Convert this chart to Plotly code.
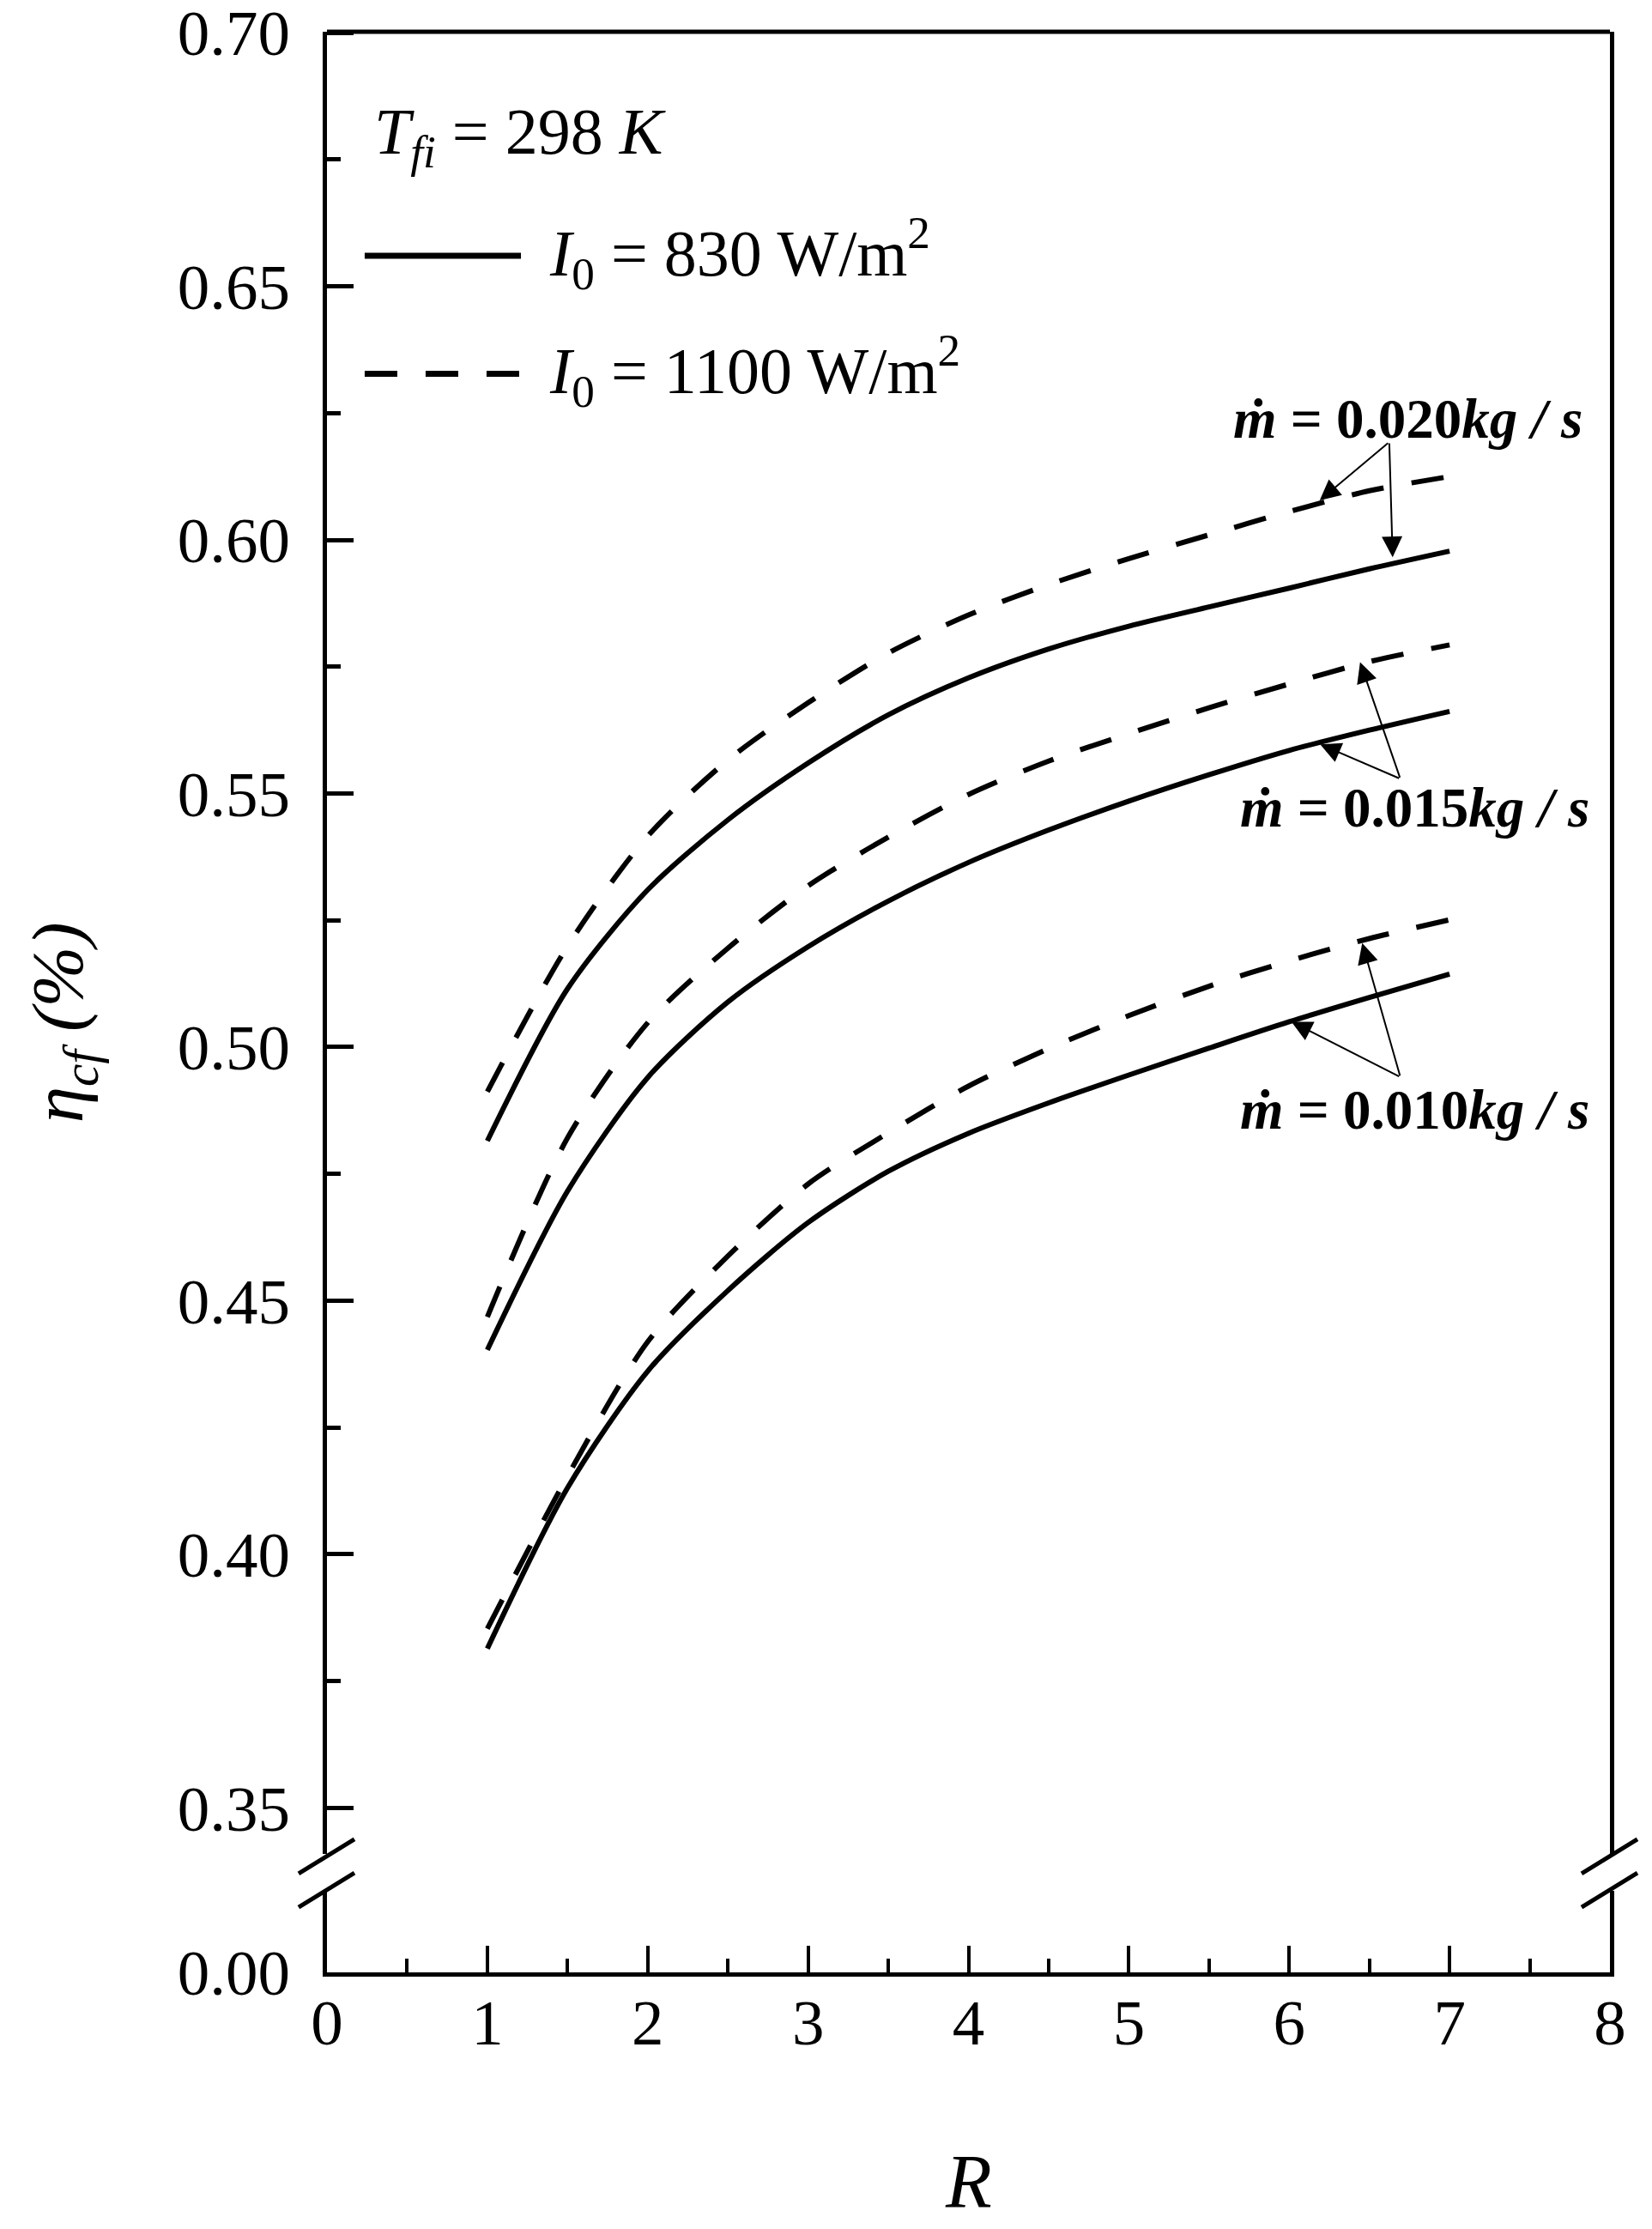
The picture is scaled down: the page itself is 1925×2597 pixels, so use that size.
import plotly.graph_objects as go

R = [1, 1.5, 2, 2.5, 3, 3.5, 4, 4.5, 5, 5.5, 6, 6.5, 7]
eta_020_830 = [0.4815, 0.5115, 0.5310, 0.5448, 0.5560, 0.5655, 0.5728, 0.5785, 0.5830, 0.5868, 0.5905, 0.5943, 0.5978]
eta_020_1100 = [0.4912, 0.5199, 0.5416, 0.5566, 0.5679, 0.5777, 0.5852, 0.5912, 0.5963, 0.6010, 0.6056, 0.6097, 0.6125]
eta_015_830 = [0.4403, 0.4716, 0.4940, 0.5089, 0.5198, 0.5288, 0.5364, 0.5428, 0.5485, 0.5537, 0.5585, 0.5625, 0.5662]
eta_015_1100 = [0.4468, 0.4821, 0.5048, 0.5195, 0.5318, 0.5414, 0.5498, 0.5564, 0.5618, 0.5669, 0.5716, 0.5760, 0.5793]
eta_010_830 = [0.3814, 0.4131, 0.4361, 0.4520, 0.4654, 0.4755, 0.4830, 0.4890, 0.4945, 0.4998, 0.5050, 0.5098, 0.5144]
eta_010_1100 = [0.3853, 0.4154, 0.4419, 0.4588, 0.4730, 0.4831, 0.4923, 0.4997, 0.5062, 0.5120, 0.5170, 0.5214, 0.5251]

x_ticks = [0, 1, 2, 3, 4, 5, 6, 7, 8]
y_ticks = [0.35, 0.40, 0.45, 0.50, 0.55, 0.60, 0.65, 0.70]

# mass flow labels: text, label pos, arrow tail, arrow tips
flow_labels = ['0.020', '0.015', '0.010']
label_x = [6.74, 6.78, 6.78]
label_y = [0.6238, 0.5472, 0.4877]
tail_x = [6.624, 6.693, 6.693]
tail_y = [0.6193, 0.5529, 0.4941]
tip_dash_x = [6.19, 6.442, 6.455]
tip_dash_y = [0.6078, 0.5759, 0.5205]
tip_solid_x = [6.645, 6.193, 6.014]
tip_solid_y = [0.5966, 0.5597, 0.5050]

FONT = 'Liberation Serif'
DASH = '38px,33px'

fig = go.Figure()
for ys, d in [(eta_020_830, 'solid'), (eta_020_1100, DASH),
              (eta_015_830, 'solid'), (eta_015_1100, DASH),
              (eta_010_830, 'solid'), (eta_010_1100, DASH)]:
    fig.add_trace(go.Scatter(x=R, y=ys, mode='lines', showlegend=False,
                             line=dict(color='black', width=6, dash=d, shape='spline', smoothing=0.8)))

# empty trace so the lower (broken) axis piece exists
fig.add_trace(go.Scatter(x=[None], y=[None], xaxis='x', yaxis='y2', mode='lines',
                         showlegend=False, hoverinfo='skip'))

axis_font = dict(family=FONT, size=75, color='black')

# margins shifted 8px to offset the page's default body margin
fig.update_layout(
    width=1925, height=2597,
    margin=dict(l=373, r=57, t=29, b=307),
    paper_bgcolor='white', plot_bgcolor='white',
    font=dict(family=FONT, color='black'),
    xaxis=dict(range=[0, 8], anchor='y2', tickvals=x_ticks, ticks='inside', ticklen=31, tickwidth=4,
               tickcolor='black', showline=True, linecolor='black', linewidth=5, showgrid=False,
               zeroline=False, tickfont=axis_font, ticklabelstandoff=-11, automargin=False,
               minor=dict(ticks='inside', ticklen=16, tickwidth=4, dtick=0.5, tickcolor='black')),
    yaxis=dict(domain=[0.061, 1], range=[0.3409, 0.7002], anchor='x', tickvals=y_ticks,
               tickformat='.2f', ticks='inside', ticklen=31, tickwidth=5, tickcolor='black',
               showline=True, mirror=True, linecolor='black', linewidth=5, showgrid=False,
               zeroline=False, tickfont=axis_font, ticklabelstandoff=23, ticklabeloverflow='allow',
               automargin=False,
               minor=dict(ticks='inside', ticklen=16, tickwidth=5, dtick=0.025, tick0=0.35,
                          tickcolor='black')),
    yaxis2=dict(domain=[0, 0.042], range=[0, 1], anchor='x', tickvals=[0], ticktext=['0.00'],
                ticks='', showline=True, mirror=True, linecolor='black', linewidth=5,
                showgrid=False, zeroline=False, tickfont=axis_font, ticklabelstandoff=23,
                ticklabeloverflow='allow', automargin=False),
)

# top border
fig.add_shape(type='line', xref='paper', yref='paper', x0=0, x1=1, y0=1, y1=1,
              line=dict(color='black', width=5))

# axis break marks (left and right)
for xa, xb in [(-0.0221, 0.0214), (0.9779, 1.0214)]:
    for y0 in [0.0509, 0.0336]:
        fig.add_shape(type='line', xref='paper', yref='paper', x0=xa, x1=xb,
                      y0=y0, y1=y0 + 0.0177, line=dict(color='black', width=5))

# legend box
fig.add_shape(type='line', xref='paper', yref='paper', x0=0.0294, x1=0.1512, y0=0.8846, y1=0.8846,
              line=dict(color='black', width=7))
fig.add_shape(type='line', xref='paper', yref='paper', x0=0.0294, x1=0.1512, y0=0.8237, y1=0.8237,
              line=dict(color='black', width=7, dash=DASH))
leg_font = dict(family=FONT, size=76, color='black')
fig.add_annotation(xref='paper', yref='paper', x=0.0355, y=0.9461, xanchor='left', yanchor='middle',
                   text='<i>T</i><sub><i>fi</i></sub> = 298 <i>K</i>', showarrow=False, font=leg_font)
fig.add_annotation(xref='paper', yref='paper', x=0.1719, y=0.8857, xanchor='left', yanchor='middle',
                   text='<i>I</i><sub>0</sub> = 830 W/m<sup>2</sup>', showarrow=False, font=leg_font)
fig.add_annotation(xref='paper', yref='paper', x=0.1719, y=0.8249, xanchor='left', yanchor='middle',
                   text='<i>I</i><sub>0</sub> = 1100 W/m<sup>2</sup>', showarrow=False, font=leg_font)

# mass flow rate labels and arrows
for i, lab in enumerate(flow_labels):
    fig.add_annotation(x=label_x[i], y=label_y[i], xref='x', yref='y', showarrow=False,
                       text='<b><i>ṁ</i> = ' + lab + '<i>kg / s</i></b>',
                       font=dict(family=FONT, size=65, color='black'))
    for tx, ty in [(tip_dash_x[i], tip_dash_y[i]), (tip_solid_x[i], tip_solid_y[i])]:
        fig.add_annotation(x=tx, y=ty, ax=tail_x[i], ay=tail_y[i], xref='x', yref='y',
                           axref='x', ayref='y', text='', showarrow=True, arrowhead=2,
                           arrowsize=2.4, arrowwidth=2, arrowcolor='black')

# axis titles
fig.add_annotation(xref='paper', yref='paper', x=0.5, y=-0.1075, xanchor='center', yanchor='middle',
                   text='<i>R</i>', showarrow=False, font=dict(family=FONT, size=88, color='black'))
fig.add_annotation(xref='paper', yref='paper', x=-0.206, y=0.4895, xanchor='center', yanchor='middle',
                   textangle=-90, text='<i>η<sub>cf</sub> (%)</i>', showarrow=False,
                   font=dict(family=FONT, size=85, color='black'))

fig.write_html('out.html')
